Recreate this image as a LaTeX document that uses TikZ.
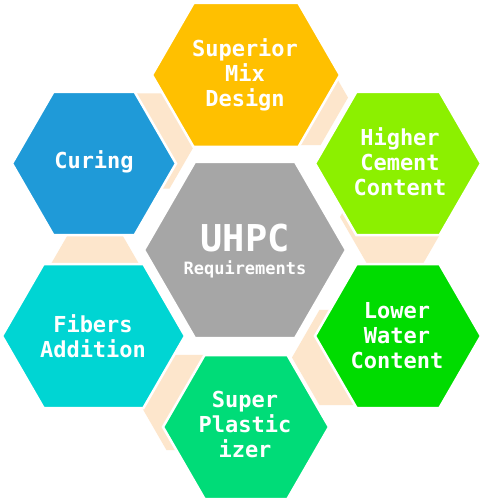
\documentclass[tikz,border=0pt]{standalone}
\usepackage{fontspec}
\newfontfamily\lblfont{DejaVu Sans Mono}
\definecolor{cOrange}{HTML}{FFC000}
\definecolor{cBlue}{HTML}{1F9AD8}
\definecolor{cLime}{HTML}{8CF000}
\definecolor{cGreen}{HTML}{00DC00}
\definecolor{cMint}{HTML}{00DC78}
\definecolor{cCyan}{HTML}{00D5D3}
\definecolor{cGray}{HTML}{A6A6A6}
\definecolor{cPeach}{HTML}{FDE6CC}
\newcommand\drawhex[5]{%
  \begin{scope}[shift={(#1,#2)}]
    \fill[#5] (-#3,0) -- (-#3+0.57735*#4,-#4) -- (#3-0.57735*#4,-#4) -- (#3,0)
      -- (#3-0.57735*#4,#4) -- (-#3+0.57735*#4,#4) -- cycle;
  \end{scope}}
\tikzset{
  outerhex/.style={draw=white, line width=2.5pt},
  peachhex/.style={fill=cPeach},
  lbl/.style={text=white, align=center, inner sep=0pt,
    font=\lblfont\bfseries\fontsize{22}{25}\selectfont},
}
\begin{document}
\begin{tikzpicture}[x=1pt,y=-1pt]
\useasboundingbox (0,0) rectangle (484,502);
\fill[white] (0,0) rectangle (484,502);
% peach connector hexagons
\drawhex{395}{217}{55}{47.6}{peachhex}
\drawhex{293}{97.6}{55}{47.6}{peachhex}
\drawhex{142}{141}{55}{47.6}{peachhex}
\drawhex{95}{283}{55}{47.6}{peachhex}
\drawhex{194}{402.5}{55}{47.6}{peachhex}
\drawhex{347}{357.5}{55}{47.6}{peachhex}
% main hexagons
\drawhex{245}{250}{101}{88}{fill=cGray,outerhex}
\drawhex{246}{75}{94}{72}{fill=cOrange,outerhex}
\drawhex{94}{163.5}{82}{71.5}{fill=cBlue,outerhex}
\drawhex{398}{163.5}{83}{71.5}{fill=cLime,outerhex}
\drawhex{398}{336}{83}{72}{fill=cGreen,outerhex}
\drawhex{93.5}{336}{91.5}{72}{fill=cCyan,outerhex}
\drawhex{246}{427}{83}{72}{fill=cMint,outerhex}
% labels
\node[lbl] (uhpc) at (245,238) {\fontsize{37}{40}\selectfont UHPC};
\node[lbl] (req) at (245,269) {\fontsize{17}{20}\selectfont Requirements};
\node[lbl] (mix) at (245,75) {Superior\\Mix\\Design};
\node[lbl] (curing) at (94,162) {Curing};
\node[lbl] (cement) at (400,162) {Higher\\Cement\\Content};
\node[lbl] (water) at (397,336) {Lower\\Water\\Content};
\node[lbl] (fibers) at (93,336) {Fibers\\Addition};
\node[lbl] (plast) at (245,424) {Super\\Plastic\\izer};
\end{tikzpicture}
\end{document}
